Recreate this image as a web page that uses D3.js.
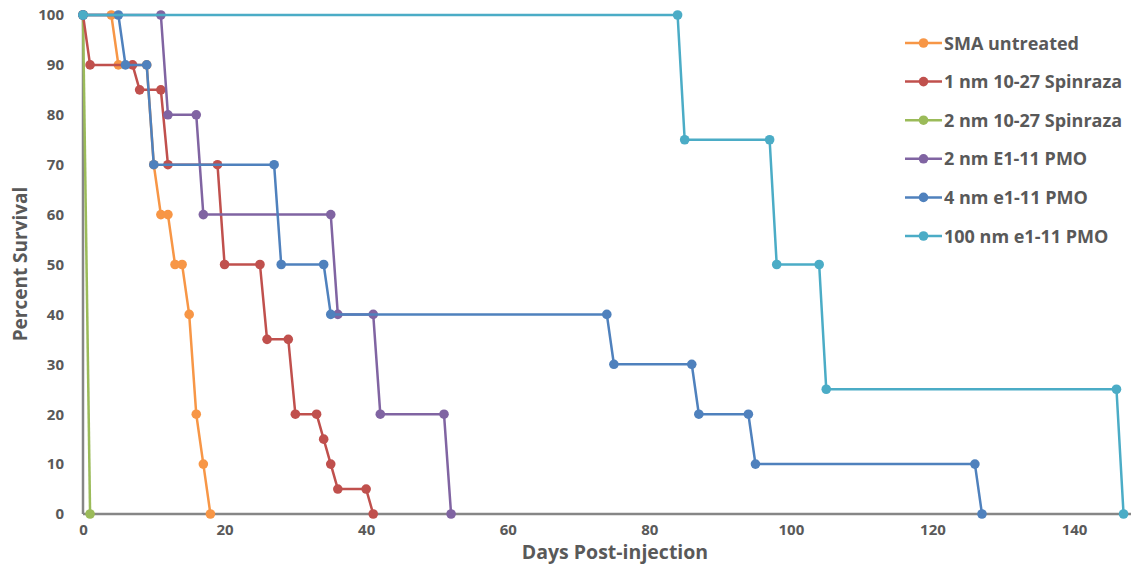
<!DOCTYPE html>
<html><head><meta charset="utf-8">
<script src="https://cdn.jsdelivr.net/npm/d3@7"></script>
<style>body{margin:0;background:#fff}svg{display:block}</style>
</head><body><svg id="c" width="1134" height="565"></svg>
<script>
const seriesNames = ["SMA untreated","1 nm 10-27 Spinraza","2 nm 10-27 Spinraza","2 nm E1-11 PMO","4 nm e1-11 PMO","100 nm e1-11 PMO"];
const seriesColors = ["#F79646","#C0504D","#9BBB59","#8064A2","#4F81BD","#4BACC6"];
const smaDays = [0,4,5,9,10,11,12,13,14,15,16,17,18];
const smaVals = [100,100,90,90,70,60,60,50,50,40,20,10,0];
const spin1Days = [0,1,7,8,11,12,19,20,25,26,29,30,33,34,35,36,40,41];
const spin1Vals = [100,90,90,85,85,70,70,50,50,35,35,20,20,15,10,5,5,0];
const spin2Days = [0,1];
const spin2Vals = [100,0];
const pmo2Days = [0,11,12,16,17,35,36,41,42,51,52];
const pmo2Vals = [100,100,80,80,60,60,40,40,20,20,0];
const pmo4Days = [0,5,6,9,10,27,28,34,35,74,75,86,87,94,95,126,127];
const pmo4Vals = [100,100,90,90,70,70,50,50,40,40,30,30,20,20,10,10,0];
const pmo100Days = [0,84,85,97,98,104,105,146,147];
const pmo100Vals = [100,100,75,75,50,50,25,25,0];
const xTicks = [0,20,40,60,80,100,120,140];
const yTicks = [0,10,20,30,40,50,60,70,80,90,100];

const allDays = [smaDays,spin1Days,spin2Days,pmo2Days,pmo4Days,pmo100Days];
const allVals = [smaVals,spin1Vals,spin2Vals,pmo2Vals,pmo4Vals,pmo100Vals];
const series = seriesNames.map((n,i)=>({name:n,color:seriesColors[i],pts:allDays[i].map((d,j)=>[d,allVals[i][j]])}));

const svg = d3.select("#c");
const x = d3.scaleLinear().domain([0,140]).range([83,1074]);
const y = d3.scaleLinear().domain([0,100]).range([514,15]);
const font = "'Open Sans', Lato, sans-serif";
const textCol = "#595959";
const fw = "bold";

// axes
const gx = svg.append("g").attr("transform","translate(0,514)")
  .call(d3.axisBottom(x).tickValues(xTicks).tickSize(0).tickPadding(10));
gx.select(".domain").attr("d","M83,0H1131").attr("stroke","#868686").attr("stroke-width",2.5);
gx.selectAll("text").attr("font-family",font).attr("font-weight",fw).attr("font-size",15).attr("fill",textCol);
const gy = svg.append("g").attr("transform","translate(83,0)")
  .call(d3.axisLeft(y).tickValues(yTicks).tickSize(0).tickPadding(19));
gy.select(".domain").attr("d","M0,15V514").attr("stroke","#868686").attr("stroke-width",2.5);
gy.selectAll("text").attr("font-family",font).attr("font-weight",fw).attr("font-size",15).attr("fill",textCol);

svg.append("text").attr("x",615).attr("y",559).attr("text-anchor","middle")
  .attr("font-family",font).attr("font-weight",fw).attr("font-size",19.5).attr("fill",textCol).text("Days Post-injection");
svg.append("text").attr("transform","translate(27,264) rotate(-90)").attr("text-anchor","middle")
  .attr("font-family",font).attr("font-weight",fw).attr("font-size",19).attr("fill",textCol).text("Percent Survival");

const line = d3.line().x(d=>x(d[0])).y(d=>y(d[1]));
const draw = [2,0,1,3,4,5];
draw.forEach(i=>{
  const s = series[i];
  const g = svg.append("g");
  g.append("path").attr("d",line(s.pts)).attr("fill","none").attr("stroke",s.color).attr("stroke-width",2.5).attr("stroke-linejoin","round");
  g.selectAll("circle").data(s.pts).join("circle").attr("cx",d=>x(d[0])).attr("cy",d=>y(d[1])).attr("r",4.8).attr("fill",s.color);
});

// legend
const lg = svg.append("g");
series.forEach((s,i)=>{
  const yy = 43 + i*38.6;
  lg.append("line").attr("x1",905).attr("x2",942).attr("y1",yy).attr("y2",yy).attr("stroke",s.color).attr("stroke-width",2.5);
  lg.append("circle").attr("cx",923.5).attr("cy",yy).attr("r",4.8).attr("fill",s.color);
  lg.append("text").attr("x",944).attr("y",yy+6.5).attr("font-family",font).attr("font-weight",fw).attr("font-size",18).attr("fill",textCol).text(s.name);
});
</script></body></html>
